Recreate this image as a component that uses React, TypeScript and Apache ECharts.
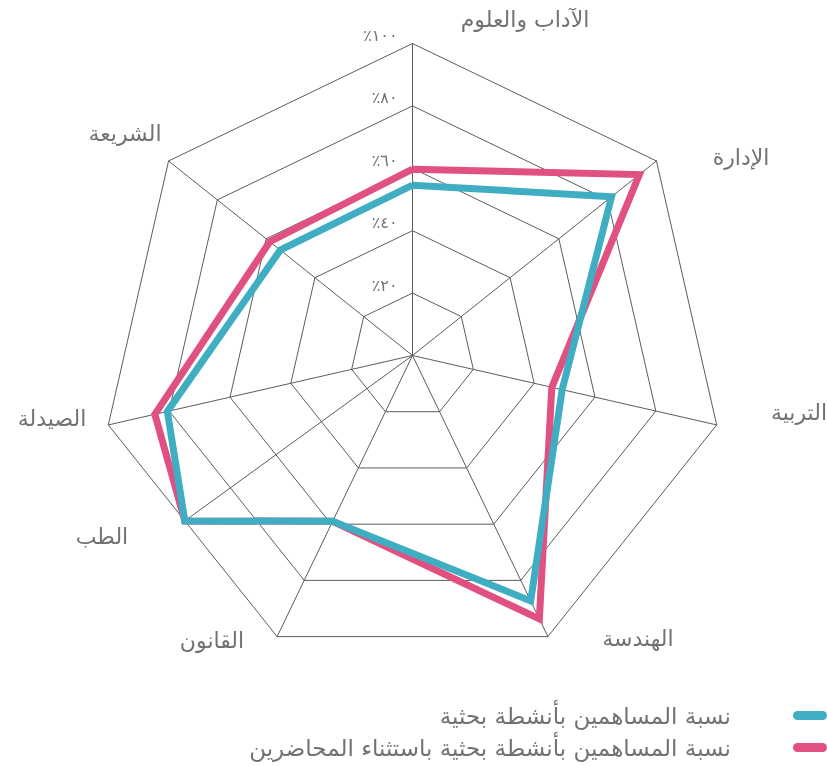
import React, { useEffect, useRef } from 'react';
import * as echarts from 'echarts';

// ---- data ----
// clockwise from the top
const CATEGORIES = ['الآداب والعلوم', 'الإدارة', 'التربية', 'الهندسة', 'القانون', 'الطب', 'الصيدلة', 'الشريعة'];
// categories that form the heptagon grid (الطب has an extra spoke between القانون and الصيدلة)
const GRID_CATEGORIES = ['الآداب والعلوم', 'الإدارة', 'التربية', 'الهندسة', 'القانون', 'الصيدلة', 'الشريعة'];
const SERIES_NAMES = ['نسبة المساهمين بأنشطة بحثية', 'نسبة المساهمين بأنشطة بحثية باستثناء المحاضرين'];
const VALUES_ALL = [54.6, 81.6, 49.2, 87.3, 59, 90.2, 80.6, 54.2];
const VALUES_EXCL = [59.7, 93, 45.8, 93.7, 59, 90.2, 84.7, 58.5];
const AXIS_MIN = 0;
const AXIS_MAX = 100;
const TICK_INTERVAL = 20;

// ---- layout ----
const W = 827;
const H = 766;
const CENTER = [412.5, 355.5];
const RADIUS = 312;
const EXTRA_AXIS_ANGLE = 234; // clockwise from top, degrees
const EXTRA_AXIS_AFTER = 'القانون';
const LABEL_POS: Record<string, [number, number]> = {
  'الآداب والعلوم': [525, 19],
  'الإدارة': [741, 157],
  'التربية': [799, 412],
  'الهندسة': [638, 638],
  'القانون': [212, 640],
  'الطب': [102, 536],
  'الصيدلة': [52, 418],
  'الشريعة': [125, 133],
};

const CYAN = '#3fadc2';
const PINK = '#e05081';
const GRID = '#5c5c5c';
const TEXT = '#727272';
const FONT = "'DejaVu Sans', sans-serif";

function toArabicDigits(n: number): string {
  return String(n).replace(/\d/g, (d) => '٠١٢٣٤٥٦٧٨٩'[+d]);
}

export default function App() {
  const ref = useRef<HTMLDivElement>(null);
  useEffect(() => {
    const chart = echarts.init(ref.current!, undefined, { renderer: 'svg' });
    const n = GRID_CATEGORIES.length;
    const step = 360 / n;
    const angleOf = (c: string) => {
      const i = GRID_CATEGORIES.indexOf(c);
      return i >= 0 ? i * step : EXTRA_AXIS_ANGLE;
    };
    const mid = (GRID_CATEGORIES.indexOf(EXTRA_AXIS_AFTER) + 0.5) * step;
    const extraEdge =
      (AXIS_MAX * Math.cos(Math.PI / n)) / Math.cos(((EXTRA_AXIS_ANGLE - mid) * Math.PI) / 180);

    const toPoints = (vals: number[]) => {
      const pts = CATEGORIES.map((c, i) => [vals[i], angleOf(c)]);
      pts.push(pts[0]);
      return pts;
    };

    // radar indicators go counter-clockwise
    const indicator = [GRID_CATEGORIES[0], ...GRID_CATEGORIES.slice(1).reverse()].map((name) => ({
      name,
      min: AXIS_MIN,
      max: AXIS_MAX,
    }));

    chart.setOption({
      animation: false,
      radar: {
        center: CENTER,
        radius: RADIUS,
        startAngle: 90,
        splitNumber: (AXIS_MAX - AXIS_MIN) / TICK_INTERVAL,
        shape: 'polygon',
        indicator,
        axisName: { show: false },
        axisLine: { lineStyle: { color: GRID, width: 1 } },
        splitLine: { lineStyle: { color: GRID, width: 1 } },
        splitArea: { show: false },
        axisTick: { show: false },
        axisLabel: { show: false },
      },
      polar: { center: CENTER, radius: RADIUS },
      angleAxis: {
        type: 'value',
        min: 0,
        max: 360,
        startAngle: 90,
        clockwise: true,
        show: false,
      },
      radiusAxis: {
        type: 'value',
        min: AXIS_MIN,
        max: AXIS_MAX,
        interval: TICK_INTERVAL,
        axisLine: { show: false },
        axisTick: { show: false },
        splitLine: { show: false },
        axisLabel: {
          show: true,
          showMinLabel: false,
          color: TEXT,
          fontSize: 16,
          fontFamily: FONT,
          margin: 15,
          verticalAlign: 'bottom',
          formatter: (v: number) => '٪' + toArabicDigits(v),
        },
      },
      legend: {
        orient: 'vertical',
        right: 0,
        top: 704,
        align: 'right',
        padding: 0,
        itemWidth: 34,
        itemHeight: 9,
        itemGap: 9,
        selectedMode: false,
        icon: 'path://M4.5,0H29.5A4.5,4.5,0,0,1,29.5,9H4.5A4.5,4.5,0,0,1,4.5,0Z',
        data: [SERIES_NAMES[0], SERIES_NAMES[1]],
        textStyle: { color: TEXT, fontSize: 23, fontFamily: FONT, padding: [0, 57, 0, 0] },
      },
      graphic: CATEGORIES.map((c) => ({
        type: 'text',
        x: LABEL_POS[c][0],
        y: LABEL_POS[c][1],
        silent: true,
        style: {
          text: c,
          fill: TEXT,
          font: `22px ${FONT}`,
          textAlign: 'center',
          textVerticalAlign: 'middle',
        },
      })),
      series: [
        {
          type: 'line',
          coordinateSystem: 'polar',
          silent: true,
          showSymbol: false,
          symbol: 'none',
          clip: false,
          z: 1,
          data: [
            [AXIS_MIN, EXTRA_AXIS_ANGLE],
            [extraEdge, EXTRA_AXIS_ANGLE],
          ],
          lineStyle: { color: GRID, width: 1 },
        },
        {
          name: SERIES_NAMES[1],
          type: 'line',
          coordinateSystem: 'polar',
          showSymbol: false,
          symbol: 'none',
          clip: false,
          z: 3,
          data: toPoints(VALUES_EXCL),
          itemStyle: { color: PINK },
          lineStyle: { color: PINK, width: 7, join: 'miter' },
        },
        {
          name: SERIES_NAMES[0],
          type: 'line',
          coordinateSystem: 'polar',
          showSymbol: false,
          symbol: 'none',
          clip: false,
          z: 4,
          data: toPoints(VALUES_ALL),
          itemStyle: { color: CYAN },
          lineStyle: { color: CYAN, width: 7, join: 'miter' },
        },
      ],
    });
    return () => chart.dispose();
  }, []);
  return <div ref={ref} style={{ position: 'fixed', left: 0, top: 0, width: W, height: H }} />;
}
